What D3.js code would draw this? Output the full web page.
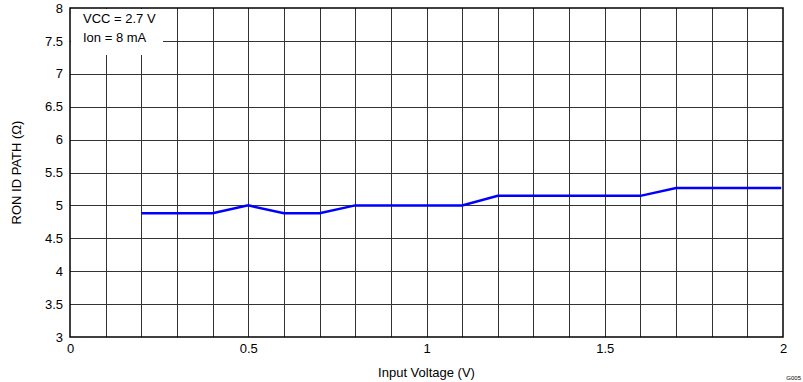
<!DOCTYPE html>
<html>
<head>
<meta charset="utf-8">
<script src="https://cdn.jsdelivr.net/npm/d3@7"></script>
<style>
  body { margin: 0; background: #fff; }
  svg { font-family: "Liberation Sans", Arial, sans-serif; }
</style>
</head>
<body>
<svg width="803" height="382"></svg>
<script>
// data
var inputVoltage = [0.2, 0.3, 0.4, 0.5, 0.6, 0.7, 0.8, 0.9, 1.0, 1.1, 1.2, 1.3, 1.4, 1.5, 1.6, 1.7, 1.8, 1.9, 1.995];
var ronPath = [4.88, 4.88, 4.88, 5.0, 4.88, 4.88, 5.0, 5.0, 5.0, 5.0, 5.145, 5.145, 5.145, 5.145, 5.145, 5.265, 5.265, 5.265, 5.265];
var xTicks = [0, 0.5, 1, 1.5, 2];
var yTicks = [3, 3.5, 4, 4.5, 5, 5.5, 6, 6.5, 7, 7.5, 8];
var legendLines = ['VCC = 2.7 V', 'Ion = 8 mA'];

var svg = d3.select('svg');
var plotLeft = 70, plotRight = 783, plotTop = 8, plotBottom = 337;

var xScale = d3.scaleLinear().domain([0, 2]).range([plotLeft, plotRight]);
var yScale = d3.scaleLinear().domain([3, 8]).range([plotBottom, plotTop]);

/**
 * Grid
 */
var grid = svg.append('g');
grid.selectAll('.vgrid')
  .data(d3.range(1, 20).map(function(i){ return i / 10; }))
  .enter().append('line')
  .attr('x1', function(d){ return Math.round(xScale(d)) + 0.5; })
  .attr('x2', function(d){ return Math.round(xScale(d)) + 0.5; })
  .attr('y1', plotTop).attr('y2', plotBottom)
  .attr('stroke', '#333').attr('stroke-width', 1);
grid.selectAll('.hgrid')
  .data(yTicks.slice(1, -1))
  .enter().append('line')
  .attr('y1', function(d){ return Math.round(yScale(d)) + 0.5; })
  .attr('y2', function(d){ return Math.round(yScale(d)) + 0.5; })
  .attr('x1', plotLeft).attr('x2', plotRight)
  .attr('stroke', '#333').attr('stroke-width', 1);

// legend box hides grid
svg.append('rect')
  .attr('x', plotLeft + 1).attr('y', plotTop + 1)
  .attr('width', 92).attr('height', 46)
  .attr('fill', 'white');
svg.selectAll('.legend')
  .data(legendLines)
  .enter().append('text')
  .attr('x', 83)
  .attr('y', function(d, i){ return 23 + i * 19; })
  .attr('font-size', 13)
  .attr('fill', '#000')
  .text(function(d){ return d; });

/**
 * Line
 */
var line = d3.line()
  .x(function(d, i){ return xScale(inputVoltage[i]); })
  .y(function(d){ return yScale(d); });
svg.append('path')
  .datum(ronPath)
  .attr('d', line)
  .attr('fill', 'none')
  .attr('stroke', '#0000ff')
  .attr('stroke-width', 2.5);

// frame
svg.append('rect')
  .attr('x', plotLeft).attr('y', plotTop)
  .attr('width', plotRight - plotLeft).attr('height', plotBottom - plotTop)
  .attr('fill', 'none')
  .attr('stroke', '#000').attr('stroke-width', 1.5);

/**
 * Axes
 */
var xAxis = d3.axisBottom(xScale).tickValues(xTicks).tickSize(0).tickPadding(7)
  .tickFormat(function(d){ return String(d); });
var yAxis = d3.axisLeft(yScale).tickValues(yTicks).tickSize(0).tickPadding(7)
  .tickFormat(function(d){ return String(d); });

var gx = svg.append('g')
  .attr('transform', 'translate(0,' + plotBottom + ')')
  .call(xAxis);
var gy = svg.append('g')
  .attr('transform', 'translate(' + plotLeft + ',0)')
  .call(yAxis);
[gx, gy].forEach(function(g){
  g.select('.domain').remove();
  g.selectAll('text').attr('font-size', 13).attr('fill', '#000')
    .style('font-family', '"Liberation Sans", Arial, sans-serif');
});

/**
 * Labels
 */
svg.append('text')
  .attr('x', (plotLeft + plotRight) / 2)
  .attr('y', 377)
  .attr('text-anchor', 'middle')
  .attr('font-size', 13)
  .text('Input Voltage (V)');

svg.append('text')
  .attr('transform', 'translate(21,' + ((plotTop + plotBottom) / 2) + ') rotate(-90)')
  .attr('text-anchor', 'middle')
  .attr('font-size', 13)
  .text('RON ID PATH (\u03A9)');

svg.append('text')
  .attr('x', 801)
  .attr('y', 380)
  .attr('text-anchor', 'end')
  .attr('font-size', 6)
  .text('G005');
</script>
</body>
</html>
